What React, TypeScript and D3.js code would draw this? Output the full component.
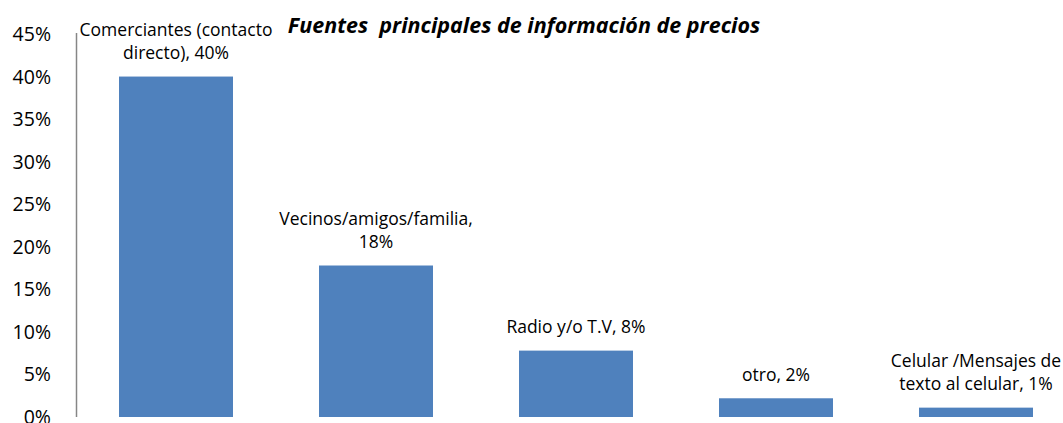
import React from "react";
import * as d3 from "d3";

const categories = [
  ["Comerciantes (contacto", "directo), 40%"],
  ["Vecinos/amigos/familia,", "18%"],
  ["Radio y/o T.V, 8%"],
  ["otro, 2%"],
  ["Celular /Mensajes de", "texto al celular, 1%"],
];
const values = [0.4, 0.178, 0.078, 0.022, 0.011];
const yTicks = [0, 0.05, 0.1, 0.15, 0.2, 0.25, 0.3, 0.35, 0.4, 0.45];
const title = "Fuentes  principales de información de precios";

const W = 1063;
const H = 423;
const FONT = "'Open Sans', sans-serif";

export default function App() {
  const x = d3
    .scaleBand<number>()
    .domain(values.map((_, i) => i))
    .range([76, 1076])
    .paddingInner(0.43)
    .paddingOuter(0.215);
  const y = d3.scaleLinear().domain([0, 0.45]).range([417, 34]);
  const fmt = d3.format(".0%");

  return (
    <svg
      width={W}
      height={H}
      style={{ position: "absolute", left: 0, top: 0, background: "#fff" }}
      fontFamily={FONT}
    >
      <rect x={0} y={0} width={W} height={H} fill="#fff" />
      {yTicks.map((t) => (
        <text
          key={t}
          x={51}
          y={y(t)}
          dy="0.36em"
          textAnchor="end"
          fontSize={19.5}
          fill="#000"
        >
          {fmt(t)}
        </text>
      ))}
      {values.map((v, i) => (
        <rect
          key={i}
          x={x(i)}
          y={y(v)}
          width={x.bandwidth()}
          height={y(0) - y(v)}
          fill="#4F81BD"
        />
      ))}
      <line x1={76.5} x2={76.5} y1={33} y2={417} stroke="#868686" strokeWidth={1.5} />
      {values.map((v, i) => {
        const lines = categories[i];
        const cx = (x(i) as number) + x.bandwidth() / 2;
        const base = y(v) - 17.5;
        return (
          <text key={i} x={cx} textAnchor="middle" fontSize={17.5} fill="#000">
            {lines.map((l, j) => (
              <tspan key={j} x={cx} y={base - (lines.length - 1 - j) * 23}>
                {l}
              </tspan>
            ))}
          </text>
        );
      })}
      <text
        x={524}
        y={33}
        textAnchor="middle"
        fontSize={21.5}
        fontWeight="bold"
        fontStyle="italic"
        fill="#000"
        style={{ whiteSpace: "pre" }}
      >
        {title}
      </text>
    </svg>
  );
}
